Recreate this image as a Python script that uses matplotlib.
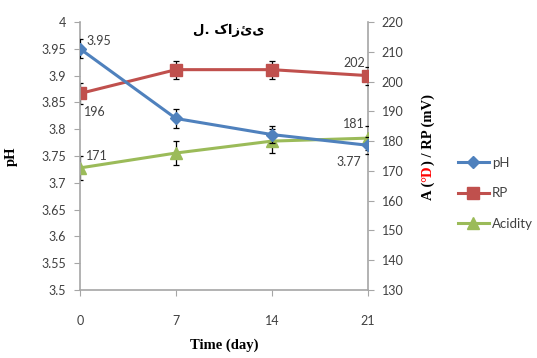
import numpy as np
import matplotlib
matplotlib.use("Agg")
import matplotlib.pyplot as plt
from matplotlib.lines import Line2D

# sampling days and measured values
days = [0, 7, 14, 21]
ph = [3.95, 3.82, 3.79, 3.77]
ph_err = [0.018, 0.018, 0.016, 0.016]
rp = [196, 204, 204, 202]
rp_err = [3.5, 3.0, 3.0, 3.0]
acidity = [171, 176, 180, 181]
acidity_err = [4.0, 4.0, 4.0, 4.0]

title_text = "ل. کازئی"

BLUE = "#4F81BD"
RED = "#C0504D"
GREEN = "#9BBB59"
TXT = "#404040"
AX = "#A6A6A6"

plt.rcParams["font.family"] = ["Lato", "DejaVu Sans"]
plt.rcParams["font.size"] = 9

fig = plt.figure(figsize=(5.37, 3.58), dpi=100)
ax = fig.add_axes([0.149, 0.19, 0.536, 0.7485])
ax2 = ax.twinx()

err_kw = dict(ecolor="black", elinewidth=0.9, capsize=2.5, capthick=0.9)

ax.errorbar(days, ph, yerr=ph_err, color=BLUE, lw=2.2, marker="D", ms=6, zorder=3, **err_kw)
ax2.errorbar(days, rp, yerr=rp_err, color=RED, lw=2.2, marker="s", ms=8, zorder=3, **err_kw)
ax2.errorbar(days, acidity, yerr=acidity_err, color=GREEN, lw=2.2, marker="^", ms=8,
             zorder=4, **err_kw)

ax.set_xlim(0, 21)
ax.set_xticks(days)
ax.set_ylim(3.5, 4.0)
ph_ticks = np.round(np.arange(3.5, 4.001, 0.05), 2)
ax.set_yticks(ph_ticks)
ax.set_yticklabels([f"{v:g}" for v in ph_ticks])
ax2.set_ylim(130, 220)
ax2.set_yticks(range(130, 221, 10))

for a in (ax, ax2):
    for s in a.spines.values():
        s.set_visible(False)
    a.tick_params(colors=AX, labelcolor=TXT, length=4, width=0.8, labelsize=9)
ax.spines["left"].set_visible(True)
ax.spines["bottom"].set_visible(True)
ax2.spines["right"].set_visible(True)
for s in (ax.spines["left"], ax.spines["bottom"], ax2.spines["right"]):
    s.set_color(AX)
    s.set_linewidth(1.2)
    s.set_clip_on(False)
ax.tick_params(axis="x", pad=14)
ax.tick_params(axis="y", pad=6)
ax2.tick_params(axis="y", pad=6)
ax.set_zorder(ax2.get_zorder() + 1)
ax.patch.set_visible(False)

# value labels at first and last points
lab = dict(fontsize=9, color=TXT)
ax.annotate(f"{ph[0]:g}", (days[0], ph[0]), xytext=(5, 3), textcoords="offset points", **lab)
ax.annotate(f"{ph[-1]:g}", (days[-1], ph[-1]), xytext=(-5, -15), textcoords="offset points",
            ha="right", **lab)
ax2.annotate(f"{rp[0]:g}", (days[0], rp[0]), xytext=(3, -16), textcoords="offset points", **lab)
ax2.annotate(f"{rp[-1]:g}", (days[-1], rp[-1]), xytext=(-2, 6), textcoords="offset points",
             ha="right", **lab)
ax2.annotate(f"{acidity[0]:g}", (days[0], acidity[0]), xytext=(4, 6), textcoords="offset points", **lab)
ax2.annotate(f"{acidity[-1]:g}", (days[-1], acidity[-1]), xytext=(-2, 7), textcoords="offset points",
             ha="right", **lab)

serif = dict(family="Liberation Serif", fontweight="bold", fontsize=10.5)
ax.set_xlabel("Time (day)", labelpad=8, color="black", **serif)
ax.set_ylabel("pH", color="black", **serif)
ax.yaxis.set_label_coords(-0.215, 0.5)

fig.text(0.425, 0.915, title_text, ha="center", va="center", fontsize=9.5,
         fontweight="bold", family=["DejaVu Sans"])

# right axis label, degree symbol part drawn in red
fig.canvas.draw()
renderer = fig.canvas.get_renderer()
y0 = 0.441
for piece, col in [("A (", "black"), ("°D", "red"), (") / RP (mV)", "black")]:
    t = fig.text(0.797, y0, piece, rotation=90, ha="center", va="bottom", color=col, **serif)
    bb = t.get_window_extent(renderer).transformed(fig.transFigure.inverted())
    y0 = bb.y1

handles = [
    Line2D([], [], color=BLUE, lw=2.2, marker="D", ms=6),
    Line2D([], [], color=RED, lw=2.2, marker="s", ms=8),
    Line2D([], [], color=GREEN, lw=2.2, marker="^", ms=8),
]
fig.legend(handles, ["pH", "RP", "Acidity"], loc="center left", bbox_to_anchor=(0.852, 0.46),
           frameon=False, fontsize=9.5, handlelength=2.4, labelspacing=1.4,
           handletextpad=0.2, labelcolor=TXT, borderaxespad=0, borderpad=0)

fig.savefig("out.png", dpi=100)
